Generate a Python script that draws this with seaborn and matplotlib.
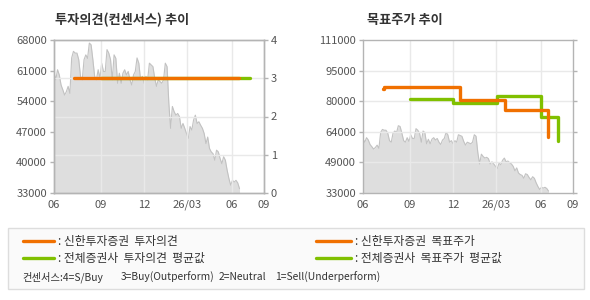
import numpy as np
import pandas as pd
import matplotlib
matplotlib.use("Agg")
import matplotlib.pyplot as plt
from matplotlib.lines import Line2D
from matplotlib.patches import Rectangle
import seaborn as sns

# ---------------- data ----------------
tick_labels = ["06", "09", "12", "26/03", "06", "09"]
tick_days = [0, 63, 121, 179, 240, 283]          # trading-day index of each month tick
price_end_day = 250

price = [60500, 58900, 61200, 60000, 57700, 56600, 55400, 56200, 57400, 55800,
         63900, 65400, 65000, 65000, 63500, 59700, 58900, 63500, 64600, 63800,
         67300, 66900, 63500, 59700, 58900, 61200, 59300, 62700, 60800, 60800,
         65800, 65000, 63500, 58900, 64600, 63800, 58100, 60400, 58100, 60400,
         61200, 60000, 60800, 58900, 57700, 60000, 60800, 63900, 62700, 58900,
         59700, 58100, 59700, 58900, 62700, 62300, 61900, 59300, 57400, 58900,
         58500, 58100, 58900, 62700, 61900, 53500, 47800, 52800, 51600, 50800,
         51200, 50500, 47800, 48900, 47800, 46600, 45500, 48200, 47400, 49700,
         50800, 48900, 49300, 48500, 47800, 46600, 44300, 45800, 43200, 42400,
         42000, 40500, 42800, 42400, 40900, 39700, 41300, 40500, 38200, 36300,
         34800, 35900, 35500, 35900, 35300, 34000]

# investment opinion (consensus scale 1..4)
op_shinhan_days = [27, 249]
op_shinhan = [3, 3]
op_avg_days = [63, 264]
op_avg = [3, 3]

# target price
tp_shinhan_days = [27, 28, 131, 191, 249]
tp_shinhan = [86000, 87000, 80300, 75200, 61500]
tp_avg_days = [63, 121, 180, 240, 263]
tp_avg = [80700, 78800, 82200, 72000, 59400]

left_ticks = [33000, 40000, 47000, 54000, 61000, 68000]
opinion_ticks = [0, 1, 2, 3, 4]
right_range = (33000, 111000)

# ---------------- style ----------------
sns.set_style("white")
plt.rcParams["font.family"] = ["Noto Sans CJK KR", "DejaVu Sans"]

ORANGE = "#f07000"
GREEN = "#80c000"
GRID = "#e9e9e9"
SPINE = "#b4b4b4"
TXT = "#555555"
FILL = "#dedede"
PLINE = "#c2c2c2"

price_days = np.linspace(0, price_end_day, len(price))
df_price = pd.DataFrame({"day": price_days, "price": price})

fig = plt.figure(figsize=(5.9, 3.0), dpi=100)
fig.patch.set_facecolor("white")

W, H = 590, 300
def ax_rect(x0, y0, x1, y1):
    return [x0 / W, 1 - y1 / H, (x1 - x0) / W, (y1 - y0) / H]

xlim = (0, tick_days[-1])

def style_axes(ax):
    for s in ax.spines.values():
        s.set_color(SPINE)
        s.set_linewidth(1)
    ax.tick_params(axis="both", colors=SPINE, labelcolor=TXT, labelsize=8,
                   length=3, width=1, direction="out", pad=2)
    ax.set_xlim(*xlim)
    ax.set_xticks(tick_days)
    ax.set_xticklabels(tick_labels)

def draw_price(ax, ymin):
    ax.fill_between(df_price["day"], df_price["price"], ymin, color=FILL, lw=0, zorder=1)
    sns.lineplot(data=df_price, x="day", y="price", ax=ax, color=PLINE, lw=0.8, zorder=2)
    ax.set_xlabel("")
    ax.set_ylabel("")

# ---------- left chart: opinion ----------
axL = fig.add_axes(ax_rect(54, 40, 264, 193))
style_axes(axL)
draw_price(axL, left_ticks[0])
axL.set_ylim(left_ticks[0], left_ticks[-1])
axL.set_yticks(left_ticks)
axL.set_yticklabels([f"{v}" for v in left_ticks])
for d in tick_days[1:-1]:
    axL.axvline(d, color=GRID, lw=1, zorder=2.5)
# horizontal grid follows the opinion (right) axis ticks
for v in opinion_ticks[1:-1]:
    yv = left_ticks[0] + v / opinion_ticks[-1] * (left_ticks[-1] - left_ticks[0])
    axL.axhline(yv, color=GRID, lw=1, zorder=2.5)

axR = axL.twinx()
style_axes(axR)
axR.set_ylim(opinion_ticks[0], opinion_ticks[-1])
axR.set_yticks(opinion_ticks)
sns.lineplot(x=op_avg_days, y=op_avg, ax=axR, color=GREEN, lw=2.4, zorder=3)
sns.lineplot(x=op_shinhan_days, y=op_shinhan, ax=axR, color=ORANGE, lw=2.4, zorder=4)
axR.set_xlabel("")
axR.set_ylabel("")
axR.patch.set_visible(False)

# ---------- right chart: target price ----------
ax2 = fig.add_axes(ax_rect(363, 40, 573, 193))
style_axes(ax2)
ax2.tick_params(axis="y", right=True, labelright=False, left=True)
r_ticks = np.linspace(right_range[0], right_range[1], 6)
draw_price(ax2, right_range[0])
ax2.set_ylim(*right_range)
ax2.set_yticks(r_ticks)
ax2.set_yticklabels([f"{int(round(v / 1000) * 1000)}" for v in r_ticks])
for v in r_ticks[1:-1]:
    ax2.axhline(v, color=GRID, lw=1, zorder=2.5)
for d in tick_days[1:-1]:
    ax2.axvline(d, color=GRID, lw=1, zorder=2.5)
sns.lineplot(x=tp_avg_days, y=tp_avg, ax=ax2, color=GREEN, lw=2.4,
             drawstyle="steps-post", zorder=3)
sns.lineplot(x=tp_shinhan_days, y=tp_shinhan, ax=ax2, color=ORANGE, lw=2.4,
             drawstyle="steps-post", zorder=4)
ax2.set_xlabel("")
ax2.set_ylabel("")

# ---------- titles ----------
fig.text(55 / W, 1 - 20 / H, "투자의견(컨센서스) 추이", fontsize=9.5, fontweight="bold",
         color="#333333", va="center", ha="left")
fig.text(367 / W, 1 - 20 / H, "목표주가 추이", fontsize=9.5, fontweight="bold",
         color="#333333", va="center", ha="left")

# ---------- legend box ----------
fig.patches.append(Rectangle((8 / W, 1 - 289 / H), 576 / W, 61 / H,
                             transform=fig.transFigure, facecolor="#fafafa",
                             edgecolor="#dddddd", lw=1, zorder=0))
legend_items = [
    (23, 54, 241, ORANGE, ": 신한투자증권  투자의견"),
    (23, 54, 258, GREEN, ": 전체증권사  투자의견  평균값"),
    (316, 351, 241, ORANGE, ": 신한투자증권  목표주가"),
    (316, 351, 258, GREEN, ": 전체증권사  목표주가  평균값"),
]
for x0, x1, y, c, label in legend_items:
    fig.lines.append(Line2D([x0 / W, x1 / W], [1 - y / H, 1 - y / H],
                            transform=fig.transFigure, color=c, lw=2.4))
    fig.text((x1 + 4) / W, 1 - y / H, label, fontsize=8.5, color="#333333",
             va="center", ha="left")

cons = [(22, "컨센서스:4=S/Buy"), (121, "3=Buy(Outperform)"),
        (219, "2=Neutral"), (275, "1=Sell(Underperform)")]
for x, t in cons:
    fig.text(x / W, 1 - 277 / H, t, fontsize=7.4, color="#333333", va="center", ha="left")

fig.savefig("out.png", dpi=100)
